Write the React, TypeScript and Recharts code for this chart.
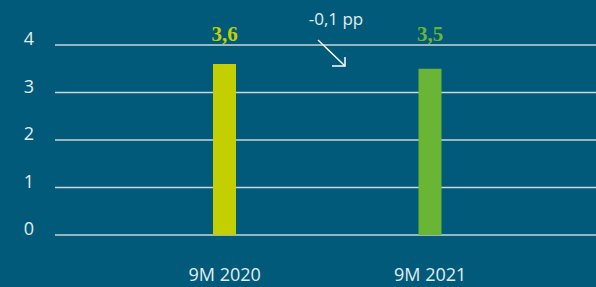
import { Bar, BarChart, CartesianGrid, Cell, Customized, LabelList, XAxis, YAxis } from "recharts"

const CATEGORIES = ["9M 2020", "9M 2021"]
const VALUES = [3.6, 3.5]
const LABELS = ["3,6", "3,5"]
const Y_TICKS = [0, 1, 2, 3, 4]
const CHANGE_LABEL = "-0,1 pp"

const BG = "#015a79"
const GRID = "#c9d6dc"
const TEXT = "#e3ecf0"
const BAR_COLORS = ["#c3cf00", "#6ab534"]

const chartData = CATEGORIES.map((name, i) => ({ name, value: VALUES[i], label: LABELS[i] }))

const SANS = "'Open Sans', 'Noto Sans', sans-serif"

const XTick = ({ x, y, payload }: any) => (
    <text x={x} y={y + 38} textAnchor="middle" fill={TEXT} fontSize={18} fontFamily={SANS}>
        {payload.value}
    </text>
)

const YTick = ({ x, y, payload }: any) => (
    <text x={x - 13} y={y} textAnchor="end" fill={TEXT} fontSize={18} fontFamily={SANS}>
        {payload.value}
    </text>
)

const renderBarLabel = ({ x, width, index }: any) => (
    <text
        x={x + width / 2}
        y={41}
        textAnchor="middle"
        fill={BAR_COLORS[index]}
        fontSize={21}
        fontWeight="bold"
        fontFamily="'Liberation Serif', serif"
    >
        {LABELS[index]}
    </text>
)

// the "-0,1 pp" note with its arrow between the two bars
const ChangeNote = () => (
    <g>
        <text x={336} y={25} textAnchor="middle" fill={TEXT} fontSize={17} fontFamily={SANS}>
            {CHANGE_LABEL}
        </text>
        <line x1={318} y1={40} x2={345} y2={66} stroke="#ffffff" strokeWidth={1.5} />
        <polyline points="332,66 345,66 345,57" fill="none" stroke="#ffffff" strokeWidth={1.5} />
    </g>
)

export default function App() {
    return (
        <div style={{ position: "absolute", left: 0, top: 0, width: 596, height: 287, background: BG }}>
            <BarChart width={596} height={287} data={chartData} margin={{ top: 45, right: 0, left: 0, bottom: 0 }}>
                <CartesianGrid vertical={false} stroke={GRID} strokeWidth={1.5} />
                <XAxis
                    dataKey="name"
                    axisLine={false}
                    tickLine={false}
                    height={52}
                    padding={{ left: 67, right: 63 }}
                    tick={<XTick />}
                />
                <YAxis
                    domain={[0, 4]}
                    ticks={Y_TICKS}
                    axisLine={false}
                    tickLine={false}
                    width={55}
                    tick={<YTick />}
                />
                <Bar dataKey="value" barSize={23} isAnimationActive={false}>
                    {chartData.map((d, i) => (
                        <Cell key={d.name} fill={BAR_COLORS[i]} />
                    ))}
                    <LabelList dataKey="label" content={renderBarLabel} />
                </Bar>
                <Customized component={ChangeNote} />
            </BarChart>
        </div>
    )
}
